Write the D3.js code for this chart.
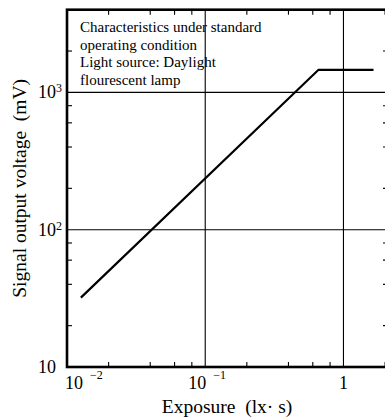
<!DOCTYPE html>
<html>
<head>
<meta charset="utf-8">
<script src="https://cdn.jsdelivr.net/npm/d3@7"></script>
<style>
  html, body { margin: 0; padding: 0; background: #fff; }
  svg { display: block; }
  text { font-family: "Liberation Serif", "DejaVu Serif", serif; fill: #000; }
</style>
</head>
<body>
<svg id="chart" width="385" height="420"></svg>
<script>
// ---- data ----
const exposure = [0.0126, 0.66, 1.65];          // lx·s
const signal   = [32, 1460, 1460];              // mV
const xTickValues = [0.01, 0.1, 1];
const xTickBase   = ["10", "10", "1"];
const xTickExp    = ["\u22122", "\u22121", ""];
const yTickValues = [10, 100, 1000];
const yTickBase   = ["10", "10", "10"];
const yTickExp    = ["", "2", "3"];
const xMinorTicks = [0.02, 0.04, 0.06, 0.08, 0.2, 0.4, 0.6, 0.8, 2];
const yMinorTicks = [20, 40, 60, 80, 200, 400, 600, 800, 2000];
const xGrid = [0.1, 1];
const yGrid = [100, 1000];
const noteLines = ["Characteristics under standard", "operating condition",
                   "Light source: Daylight", "flourescent lamp"];
const xTitle = "Exposure\u00a0\u00a0(lx\u00b7 s)";
const yTitle = "Signal output voltage\u00a0\u00a0(mV)";

// ---- layout ----
const pL = 67, pR = 388, pT = 9.7, pB = 367;
const svg = d3.select("#chart");

const x = d3.scaleLog().domain([0.01, 2.1]).range([pL, pR]);
const y = d3.scaleLog().domain([10, 4000]).range([pB, pT]);

// grid lines
svg.append("g").selectAll("line").data(xGrid).join("line")
  .attr("x1", d => x(d)).attr("x2", d => x(d))
  .attr("y1", pT).attr("y2", pB)
  .attr("stroke", "#000").attr("stroke-width", 1.1);
svg.append("g").selectAll("line").data(yGrid).join("line")
  .attr("y1", d => y(d)).attr("y2", d => y(d))
  .attr("x1", pL).attr("x2", pR)
  .attr("stroke", "#000").attr("stroke-width", 1.1);

// minor ticks (inward) on all four sides
const tl = 5;
const tg = svg.append("g").attr("stroke", "#000").attr("stroke-width", 1.1);
tg.selectAll(".xb").data(xMinorTicks).join("line")
  .attr("x1", d => x(d)).attr("x2", d => x(d)).attr("y1", pB).attr("y2", pB - tl);
tg.selectAll(".xt").data(xMinorTicks).join("line")
  .attr("x1", d => x(d)).attr("x2", d => x(d)).attr("y1", pT).attr("y2", pT + tl);
tg.selectAll(".yl").data(yMinorTicks).join("line")
  .attr("y1", d => y(d)).attr("y2", d => y(d)).attr("x1", pL).attr("x2", pL + tl);
tg.selectAll(".yr").data(yMinorTicks).join("line")
  .attr("y1", d => y(d)).attr("y2", d => y(d)).attr("x1", pR).attr("x2", pR - tl);

// frame
svg.append("rect")
  .attr("x", pL).attr("y", pT)
  .attr("width", pR - pL).attr("height", pB - pT)
  .attr("fill", "none").attr("stroke", "#000").attr("stroke-width", 2.6);

// data line
const line = d3.line().x(d => x(d[0])).y(d => y(d[1]));
svg.append("path")
  .datum(exposure.map((e, i) => [e, signal[i]]))
  .attr("d", line)
  .attr("fill", "none").attr("stroke", "#000").attr("stroke-width", 2.2)
  .attr("stroke-linejoin", "miter");

// x tick labels
xTickValues.forEach((v, i) => {
  const t = svg.append("text").attr("y", 389).attr("font-size", 18);
  t.append("tspan").text(xTickBase[i]);
  if (xTickExp[i]) {
    t.append("tspan").attr("dx", 7).attr("dy", -10).attr("font-size", 12).text(xTickExp[i]);
  }
  const w = t.node().getComputedTextLength();
  let x0 = x(v) - (xTickExp[i] ? 17 : w / 2);
  if (x0 < x(0.01) - 2) x0 = x(0.01) - 2;
  t.attr("x", x0);
});

// y tick labels
yTickValues.forEach((v, i) => {
  const t = svg.append("text").attr("y", y(v) + 6).attr("font-size", 18)
    .attr("text-anchor", "start");
  t.append("tspan").text(yTickBase[i]);
  if (yTickExp[i]) {
    t.append("tspan").attr("dy", -6).attr("font-size", 12).text(yTickExp[i]);
  }
  t.attr("x", 38);
});

// axis titles
svg.append("text").attr("x", 227).attr("y", 413).attr("font-size", 19.5)
  .attr("text-anchor", "middle").text(xTitle);
svg.append("text").attr("transform", `translate(26,${(pT + pB) / 2}) rotate(-90)`)
  .attr("font-size", 19.5).attr("text-anchor", "middle").text(yTitle);

// annotation
svg.append("g").selectAll("text").data(noteLines).join("text")
  .attr("x", 80).attr("y", (d, i) => 32 + i * 17.5)
  .attr("font-size", 15).text(d => d);
</script>
</body>
</html>
